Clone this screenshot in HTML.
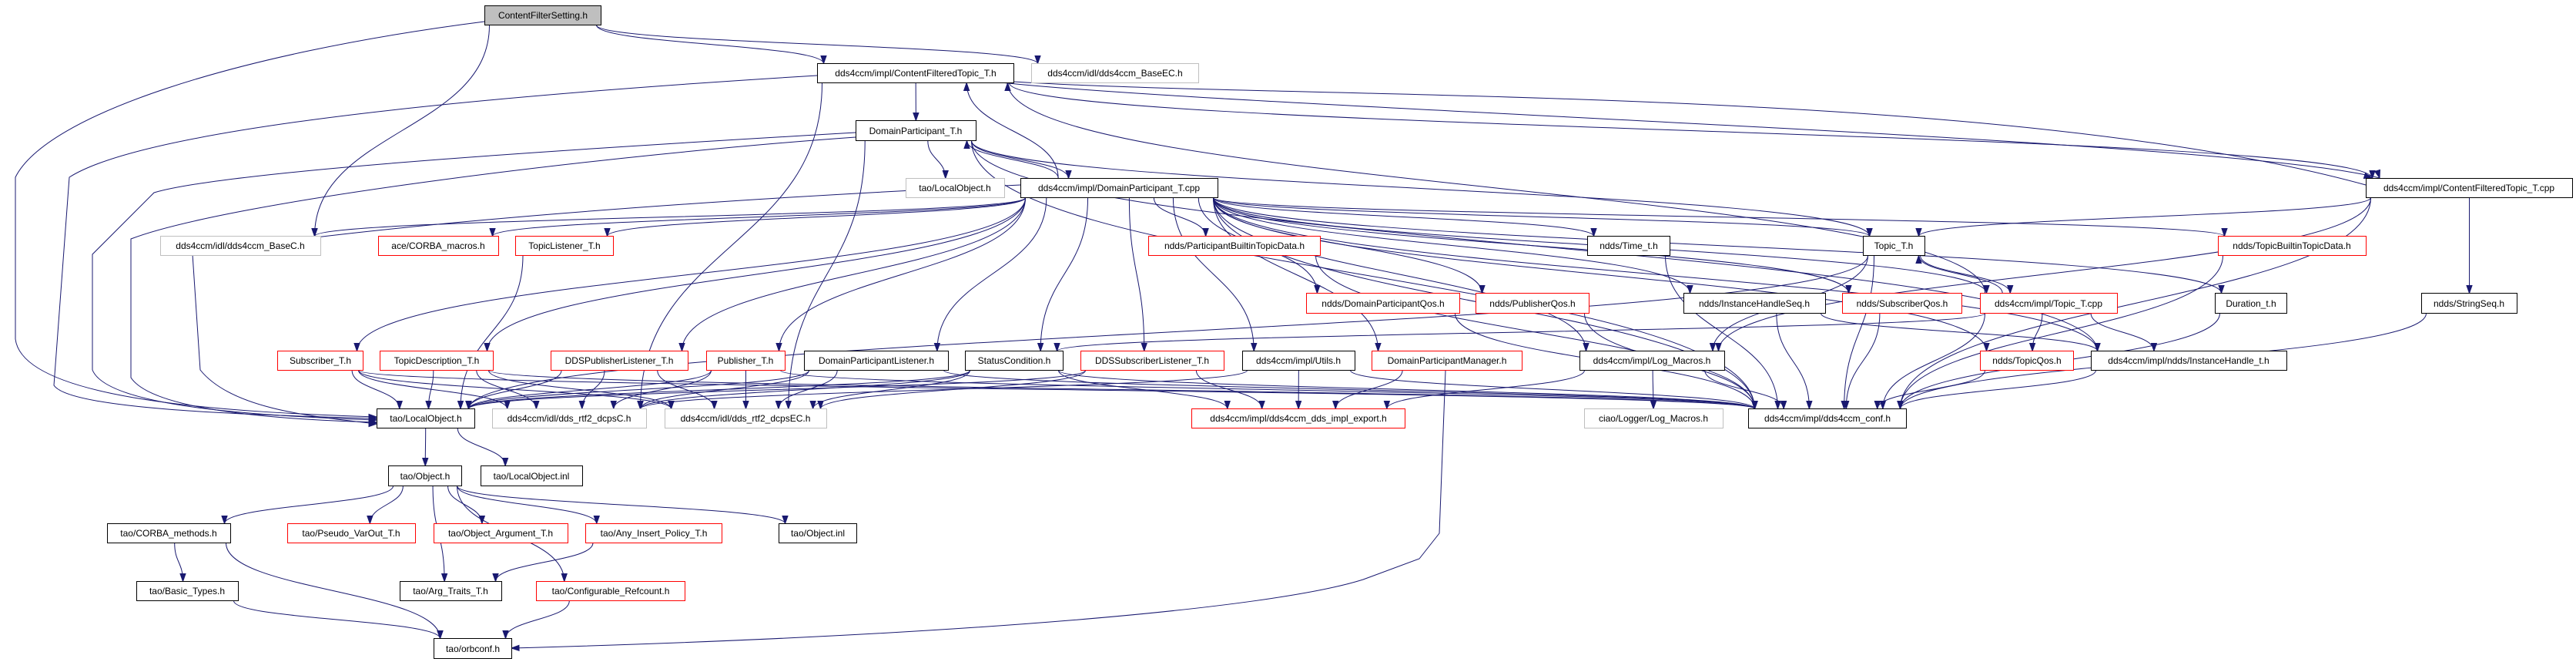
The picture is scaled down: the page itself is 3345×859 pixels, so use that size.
<!DOCTYPE html>
<html><head><meta charset="utf-8"><style>
html,body{margin:0;padding:0;background:#fff;}
svg{display:block;}
text{font-family:"Liberation Sans","DejaVu Sans",sans-serif;font-size:12px;fill:#000;}
</style></head><body>
<svg id="g" xmlns="http://www.w3.org/2000/svg" width="3345" height="859" viewBox="0 0 3345 859">
<g id="edges" fill="none" stroke="#191970" stroke-width="1"></g>
<g id="heads" fill="#191970" stroke="#191970"></g>
<g id="nodes" stroke-width="1">
<rect x="629.5" y="7.5" width="151" height="25" fill="#bfbfbf" stroke="#000"/><text x="705" y="24" text-anchor="middle">ContentFilterSetting.h</text>
<rect x="1061.5" y="82.5" width="255" height="25" fill="#fff" stroke="#000"/><text x="1189" y="99" text-anchor="middle">dds4ccm/impl/ContentFilteredTopic_T.h</text>
<rect x="1339.5" y="82.5" width="217" height="25" fill="#fff" stroke="#bfbfbf"/><text x="1448" y="99" text-anchor="middle">dds4ccm/idl/dds4ccm_BaseEC.h</text>
<rect x="1111.5" y="156.5" width="156" height="26" fill="#fff" stroke="#000"/><text x="1189" y="174" text-anchor="middle">DomainParticipant_T.h</text>
<rect x="1176.5" y="231.5" width="128" height="25" fill="#fff" stroke="#bfbfbf"/><text x="1240" y="248" text-anchor="middle">tao/LocalObject.h</text>
<rect x="1325.5" y="231.5" width="256" height="25" fill="#fff" stroke="#000"/><text x="1453" y="248" text-anchor="middle">dds4ccm/impl/DomainParticipant_T.cpp</text>
<rect x="3072.5" y="231.5" width="268" height="25" fill="#fff" stroke="#000"/><text x="3206" y="248" text-anchor="middle">dds4ccm/impl/ContentFilteredTopic_T.cpp</text>
<rect x="208.5" y="306.5" width="208" height="25" fill="#fff" stroke="#bfbfbf"/><text x="312" y="323" text-anchor="middle">dds4ccm/idl/dds4ccm_BaseC.h</text>
<rect x="491.5" y="306.5" width="156" height="25" fill="#fff" stroke="#f00"/><text x="569" y="323" text-anchor="middle">ace/CORBA_macros.h</text>
<rect x="669.5" y="306.5" width="127" height="25" fill="#fff" stroke="#f00"/><text x="733" y="323" text-anchor="middle">TopicListener_T.h</text>
<rect x="1491.5" y="306.5" width="223" height="25" fill="#fff" stroke="#f00"/><text x="1603" y="323" text-anchor="middle">ndds/ParticipantBuiltinTopicData.h</text>
<rect x="2061.5" y="306.5" width="107" height="25" fill="#fff" stroke="#000"/><text x="2115" y="323" text-anchor="middle">ndds/Time_t.h</text>
<rect x="2419.5" y="306.5" width="80" height="25" fill="#fff" stroke="#000"/><text x="2459" y="323" text-anchor="middle">Topic_T.h</text>
<rect x="2880.5" y="306.5" width="192" height="25" fill="#fff" stroke="#f00"/><text x="2976" y="323" text-anchor="middle">ndds/TopicBuiltinTopicData.h</text>
<rect x="1696.5" y="380.5" width="199" height="26" fill="#fff" stroke="#f00"/><text x="1796" y="398" text-anchor="middle">ndds/DomainParticipantQos.h</text>
<rect x="1916.5" y="380.5" width="147" height="26" fill="#fff" stroke="#f00"/><text x="1990" y="398" text-anchor="middle">ndds/PublisherQos.h</text>
<rect x="2186.5" y="380.5" width="184" height="26" fill="#fff" stroke="#000"/><text x="2278" y="398" text-anchor="middle">ndds/InstanceHandleSeq.h</text>
<rect x="2392.5" y="380.5" width="155" height="26" fill="#fff" stroke="#f00"/><text x="2470" y="398" text-anchor="middle">ndds/SubscriberQos.h</text>
<rect x="2571.5" y="380.5" width="178" height="26" fill="#fff" stroke="#f00"/><text x="2660" y="398" text-anchor="middle">dds4ccm/impl/Topic_T.cpp</text>
<rect x="2876.5" y="380.5" width="93" height="26" fill="#fff" stroke="#000"/><text x="2923" y="398" text-anchor="middle">Duration_t.h</text>
<rect x="3144.5" y="380.5" width="124" height="26" fill="#fff" stroke="#000"/><text x="3206" y="398" text-anchor="middle">ndds/StringSeq.h</text>
<rect x="360.5" y="455.5" width="111" height="25" fill="#fff" stroke="#f00"/><text x="416" y="472" text-anchor="middle">Subscriber_T.h</text>
<rect x="493.5" y="455.5" width="147" height="25" fill="#fff" stroke="#f00"/><text x="567" y="472" text-anchor="middle">TopicDescription_T.h</text>
<rect x="715.5" y="455.5" width="178" height="25" fill="#fff" stroke="#f00"/><text x="804" y="472" text-anchor="middle">DDSPublisherListener_T.h</text>
<rect x="917.5" y="455.5" width="102" height="25" fill="#fff" stroke="#f00"/><text x="968" y="472" text-anchor="middle">Publisher_T.h</text>
<rect x="1044.5" y="455.5" width="187" height="25" fill="#fff" stroke="#000"/><text x="1138" y="472" text-anchor="middle">DomainParticipantListener.h</text>
<rect x="1253.5" y="455.5" width="127" height="25" fill="#fff" stroke="#000"/><text x="1317" y="472" text-anchor="middle">StatusCondition.h</text>
<rect x="1403.5" y="455.5" width="186" height="25" fill="#fff" stroke="#f00"/><text x="1496" y="472" text-anchor="middle">DDSSubscriberListener_T.h</text>
<rect x="1613.5" y="455.5" width="146" height="25" fill="#fff" stroke="#000"/><text x="1686" y="472" text-anchor="middle">dds4ccm/impl/Utils.h</text>
<rect x="1781.5" y="455.5" width="195" height="25" fill="#fff" stroke="#f00"/><text x="1879" y="472" text-anchor="middle">DomainParticipantManager.h</text>
<rect x="2051.5" y="455.5" width="188" height="25" fill="#fff" stroke="#000"/><text x="2145" y="472" text-anchor="middle">dds4ccm/impl/Log_Macros.h</text>
<rect x="2571.5" y="455.5" width="121" height="25" fill="#fff" stroke="#f00"/><text x="2632" y="472" text-anchor="middle">ndds/TopicQos.h</text>
<rect x="2715.5" y="455.5" width="254" height="25" fill="#fff" stroke="#000"/><text x="2842" y="472" text-anchor="middle">dds4ccm/impl/ndds/InstanceHandle_t.h</text>
<rect x="489.5" y="530.5" width="127" height="25" fill="#fff" stroke="#000"/><text x="553" y="547" text-anchor="middle">tao/LocalObject.h</text>
<rect x="639.5" y="530.5" width="200" height="25" fill="#fff" stroke="#bfbfbf"/><text x="739" y="547" text-anchor="middle">dds4ccm/idl/dds_rtf2_dcpsC.h</text>
<rect x="863.5" y="530.5" width="210" height="25" fill="#fff" stroke="#bfbfbf"/><text x="968" y="547" text-anchor="middle">dds4ccm/idl/dds_rtf2_dcpsEC.h</text>
<rect x="1547.5" y="530.5" width="277" height="25" fill="#fff" stroke="#f00"/><text x="1686" y="547" text-anchor="middle">dds4ccm/impl/dds4ccm_dds_impl_export.h</text>
<rect x="2057.5" y="530.5" width="180" height="25" fill="#fff" stroke="#bfbfbf"/><text x="2147" y="547" text-anchor="middle">ciao/Logger/Log_Macros.h</text>
<rect x="2270.5" y="530.5" width="205" height="25" fill="#fff" stroke="#000"/><text x="2373" y="547" text-anchor="middle">dds4ccm/impl/dds4ccm_conf.h</text>
<rect x="504.5" y="604.5" width="95" height="26" fill="#fff" stroke="#000"/><text x="552" y="622" text-anchor="middle">tao/Object.h</text>
<rect x="624.5" y="604.5" width="132" height="26" fill="#fff" stroke="#000"/><text x="690" y="622" text-anchor="middle">tao/LocalObject.inl</text>
<rect x="139.5" y="679.5" width="160" height="25" fill="#fff" stroke="#000"/><text x="219" y="696" text-anchor="middle">tao/CORBA_methods.h</text>
<rect x="373.5" y="679.5" width="166" height="25" fill="#fff" stroke="#f00"/><text x="456" y="696" text-anchor="middle">tao/Pseudo_VarOut_T.h</text>
<rect x="563.5" y="679.5" width="174" height="25" fill="#fff" stroke="#f00"/><text x="650" y="696" text-anchor="middle">tao/Object_Argument_T.h</text>
<rect x="760.5" y="679.5" width="177" height="25" fill="#fff" stroke="#f00"/><text x="849" y="696" text-anchor="middle">tao/Any_Insert_Policy_T.h</text>
<rect x="1011.5" y="679.5" width="101" height="25" fill="#fff" stroke="#000"/><text x="1062" y="696" text-anchor="middle">tao/Object.inl</text>
<rect x="177.5" y="754.5" width="132" height="25" fill="#fff" stroke="#000"/><text x="243" y="771" text-anchor="middle">tao/Basic_Types.h</text>
<rect x="519.5" y="754.5" width="132" height="25" fill="#fff" stroke="#000"/><text x="585" y="771" text-anchor="middle">tao/Arg_Traits_T.h</text>
<rect x="696.5" y="754.5" width="193" height="25" fill="#fff" stroke="#f00"/><text x="793" y="771" text-anchor="middle">tao/Configurable_Refcount.h</text>
<rect x="563.5" y="828.5" width="101" height="26" fill="#fff" stroke="#000"/><text x="614" y="846" text-anchor="middle">tao/orbconf.h</text>
</g>
</svg>
<script>
(function(){
var N={};
var rs=document.querySelectorAll('#nodes rect'),ts=document.querySelectorAll('#nodes text');
for(var i=0;i<rs.length;i++){var r=rs[i];N[ts[i].textContent]={x:+r.getAttribute('x'),y:+r.getAttribute('y'),w:+r.getAttribute('width'),h:+r.getAttribute('height')};}
var E=[
['ContentFilterSetting.h','dds4ccm/impl/ContentFilteredTopic_T.h'],['ContentFilterSetting.h','dds4ccm/idl/dds4ccm_BaseEC.h'],['ContentFilterSetting.h','dds4ccm/idl/dds4ccm_BaseC.h'],
['dds4ccm/impl/ContentFilteredTopic_T.h','DomainParticipant_T.h'],['dds4ccm/impl/ContentFilteredTopic_T.h','dds4ccm/impl/ContentFilteredTopic_T.cpp'],['dds4ccm/impl/ContentFilteredTopic_T.h','dds4ccm/idl/dds_rtf2_dcpsC.h'],
['DomainParticipant_T.h','tao/LocalObject.h#g'],['DomainParticipant_T.h','dds4ccm/impl/DomainParticipant_T.cpp'],['DomainParticipant_T.h','dds4ccm/impl/dds4ccm_conf.h'],['DomainParticipant_T.h','dds4ccm/impl/ndds/InstanceHandle_t.h'],['DomainParticipant_T.h','Topic_T.h'],['DomainParticipant_T.h','dds4ccm/idl/dds_rtf2_dcpsEC.h'],
['dds4ccm/impl/DomainParticipant_T.cpp','dds4ccm/impl/ContentFilteredTopic_T.h'],['dds4ccm/impl/DomainParticipant_T.cpp','DomainParticipant_T.h'],
['dds4ccm/impl/DomainParticipant_T.cpp','dds4ccm/idl/dds4ccm_BaseC.h'],['dds4ccm/impl/DomainParticipant_T.cpp','ace/CORBA_macros.h'],['dds4ccm/impl/DomainParticipant_T.cpp','TopicListener_T.h'],
['dds4ccm/impl/DomainParticipant_T.cpp','Subscriber_T.h'],['dds4ccm/impl/DomainParticipant_T.cpp','TopicDescription_T.h'],['dds4ccm/impl/DomainParticipant_T.cpp','DDSPublisherListener_T.h'],['dds4ccm/impl/DomainParticipant_T.cpp','Publisher_T.h'],['dds4ccm/impl/DomainParticipant_T.cpp','DomainParticipantListener.h'],['dds4ccm/impl/DomainParticipant_T.cpp','StatusCondition.h'],['dds4ccm/impl/DomainParticipant_T.cpp','DDSSubscriberListener_T.h'],['dds4ccm/impl/DomainParticipant_T.cpp','dds4ccm/impl/Utils.h'],['dds4ccm/impl/DomainParticipant_T.cpp','DomainParticipantManager.h'],
['dds4ccm/impl/DomainParticipant_T.cpp','ndds/ParticipantBuiltinTopicData.h'],['dds4ccm/impl/DomainParticipant_T.cpp','ndds/DomainParticipantQos.h'],['dds4ccm/impl/DomainParticipant_T.cpp','ndds/PublisherQos.h'],['dds4ccm/impl/DomainParticipant_T.cpp','ndds/Time_t.h'],['dds4ccm/impl/DomainParticipant_T.cpp','ndds/InstanceHandleSeq.h'],['dds4ccm/impl/DomainParticipant_T.cpp','ndds/SubscriberQos.h'],['dds4ccm/impl/DomainParticipant_T.cpp','Topic_T.h'],['dds4ccm/impl/DomainParticipant_T.cpp','dds4ccm/impl/Topic_T.cpp'],['dds4ccm/impl/DomainParticipant_T.cpp','ndds/TopicBuiltinTopicData.h'],['dds4ccm/impl/DomainParticipant_T.cpp','Duration_t.h'],['dds4ccm/impl/DomainParticipant_T.cpp','dds4ccm/impl/Log_Macros.h'],['dds4ccm/impl/DomainParticipant_T.cpp','ndds/TopicQos.h'],['dds4ccm/impl/DomainParticipant_T.cpp','dds4ccm/impl/ndds/InstanceHandle_t.h'],['dds4ccm/impl/DomainParticipant_T.cpp','dds4ccm/impl/dds4ccm_conf.h'],
['dds4ccm/impl/ContentFilteredTopic_T.cpp','Topic_T.h'],['dds4ccm/impl/ContentFilteredTopic_T.cpp','ndds/StringSeq.h'],['dds4ccm/impl/ContentFilteredTopic_T.cpp','dds4ccm/impl/dds4ccm_conf.h'],['dds4ccm/impl/ContentFilteredTopic_T.cpp','dds4ccm/impl/Log_Macros.h'],
['Topic_T.h','dds4ccm/impl/Topic_T.cpp'],['Topic_T.h','tao/LocalObject.h'],['Topic_T.h','dds4ccm/impl/dds4ccm_conf.h'],['Topic_T.h','dds4ccm/impl/Log_Macros.h'],
['dds4ccm/impl/Topic_T.cpp','Topic_T.h'],['dds4ccm/impl/Topic_T.cpp','StatusCondition.h'],['dds4ccm/impl/Topic_T.cpp','ndds/TopicQos.h'],['dds4ccm/impl/Topic_T.cpp','dds4ccm/impl/ndds/InstanceHandle_t.h'],['dds4ccm/impl/Topic_T.cpp','dds4ccm/impl/dds4ccm_conf.h'],['dds4ccm/impl/Topic_T.cpp','dds4ccm/impl/ContentFilteredTopic_T.h'],
['ndds/ParticipantBuiltinTopicData.h','dds4ccm/impl/dds4ccm_conf.h'],['ndds/DomainParticipantQos.h','dds4ccm/impl/dds4ccm_conf.h'],['ndds/PublisherQos.h','dds4ccm/impl/dds4ccm_conf.h'],['ndds/Time_t.h','dds4ccm/impl/dds4ccm_conf.h'],['ndds/InstanceHandleSeq.h','dds4ccm/impl/dds4ccm_conf.h'],['ndds/SubscriberQos.h','dds4ccm/impl/dds4ccm_conf.h'],['ndds/TopicBuiltinTopicData.h','dds4ccm/impl/dds4ccm_conf.h'],['Duration_t.h','dds4ccm/impl/dds4ccm_conf.h'],['ndds/StringSeq.h','dds4ccm/impl/dds4ccm_conf.h'],['ndds/TopicQos.h','dds4ccm/impl/dds4ccm_conf.h'],['dds4ccm/impl/ndds/InstanceHandle_t.h','dds4ccm/impl/dds4ccm_conf.h'],['ndds/InstanceHandleSeq.h','dds4ccm/impl/ndds/InstanceHandle_t.h'],
['Subscriber_T.h','tao/LocalObject.h'],['Subscriber_T.h','dds4ccm/idl/dds_rtf2_dcpsC.h'],['Subscriber_T.h','dds4ccm/idl/dds_rtf2_dcpsEC.h'],['Subscriber_T.h','dds4ccm/impl/dds4ccm_conf.h'],
['TopicDescription_T.h','tao/LocalObject.h'],['TopicDescription_T.h','dds4ccm/idl/dds_rtf2_dcpsC.h'],['TopicDescription_T.h','dds4ccm/idl/dds_rtf2_dcpsEC.h'],['TopicDescription_T.h','dds4ccm/impl/dds4ccm_conf.h'],
['DDSPublisherListener_T.h','tao/LocalObject.h'],['DDSPublisherListener_T.h','dds4ccm/idl/dds_rtf2_dcpsC.h'],['DDSPublisherListener_T.h','dds4ccm/idl/dds_rtf2_dcpsEC.h'],
['Publisher_T.h','tao/LocalObject.h'],['Publisher_T.h','dds4ccm/idl/dds_rtf2_dcpsC.h'],['Publisher_T.h','dds4ccm/idl/dds_rtf2_dcpsEC.h'],['Publisher_T.h','dds4ccm/impl/dds4ccm_conf.h'],
['DomainParticipantListener.h','tao/LocalObject.h'],['DomainParticipantListener.h','dds4ccm/idl/dds_rtf2_dcpsC.h'],['DomainParticipantListener.h','dds4ccm/idl/dds_rtf2_dcpsEC.h'],['DomainParticipantListener.h','dds4ccm/impl/dds4ccm_conf.h'],
['StatusCondition.h','tao/LocalObject.h'],['StatusCondition.h','dds4ccm/idl/dds_rtf2_dcpsC.h'],['StatusCondition.h','dds4ccm/idl/dds_rtf2_dcpsEC.h'],['StatusCondition.h','dds4ccm/impl/dds4ccm_dds_impl_export.h'],['StatusCondition.h','dds4ccm/impl/dds4ccm_conf.h'],
['DDSSubscriberListener_T.h','tao/LocalObject.h'],['DDSSubscriberListener_T.h','dds4ccm/idl/dds_rtf2_dcpsEC.h'],['DDSSubscriberListener_T.h','dds4ccm/impl/dds4ccm_dds_impl_export.h'],
['dds4ccm/impl/Utils.h','dds4ccm/impl/dds4ccm_dds_impl_export.h'],['dds4ccm/impl/Utils.h','dds4ccm/impl/dds4ccm_conf.h'],['dds4ccm/impl/Utils.h','dds4ccm/idl/dds_rtf2_dcpsC.h'],
['DomainParticipantManager.h','dds4ccm/impl/dds4ccm_dds_impl_export.h'],
['dds4ccm/impl/Log_Macros.h','ciao/Logger/Log_Macros.h'],['dds4ccm/impl/Log_Macros.h','dds4ccm/impl/dds4ccm_dds_impl_export.h'],['dds4ccm/impl/Log_Macros.h','dds4ccm/impl/dds4ccm_conf.h'],
['TopicListener_T.h','tao/LocalObject.h'],
['tao/LocalObject.h','tao/Object.h'],['tao/LocalObject.h','tao/LocalObject.inl'],
['tao/Object.h','tao/CORBA_methods.h'],['tao/Object.h','tao/Pseudo_VarOut_T.h'],['tao/Object.h','tao/Object_Argument_T.h'],['tao/Object.h','tao/Any_Insert_Policy_T.h'],['tao/Object.h','tao/Object.inl'],['tao/Object.h','tao/Arg_Traits_T.h'],['tao/Object.h','tao/Configurable_Refcount.h'],
['tao/CORBA_methods.h','tao/Basic_Types.h'],['tao/CORBA_methods.h','tao/orbconf.h'],['tao/Basic_Types.h','tao/orbconf.h'],['tao/Any_Insert_Policy_T.h','tao/Arg_Traits_T.h'],['tao/Configurable_Refcount.h','tao/orbconf.h']
];
var grey={x:1176.5,y:231.5,w:128,h:25};
var big=N['tao/LocalObject.h'];
function get(n){if(n==='tao/LocalObject.h#g')return grey;if(n==='tao/LocalObject.h')return big;return N[n];}
var eg=document.getElementById('edges'),hg=document.getElementById('heads'),NS='http://www.w3.org/2000/svg';
function add(d,ex,ey,dx,dy){var p=document.createElementNS(NS,'path');p.setAttribute('d',d);eg.appendChild(p);
var L=Math.sqrt(dx*dx+dy*dy)||1;dx/=L;dy/=L;var bx=ex-dx*10,by=ey-dy*10;
var h=document.createElementNS(NS,'polygon');h.setAttribute('points',ex+','+ey+' '+(bx-dy*3.5)+','+(by+dx*3.5)+' '+(bx+dy*3.5)+','+(by-dx*3.5));hg.appendChild(h);}
function clamp(v,a,b){return Math.max(a,Math.min(b,v));}
E.forEach(function(e){var s=get(e[0]),t=get(e[1]);if(!s||!t)return;
var scx=s.x+s.w/2,tcx=t.x+t.w/2;var sx,sy,tx,ty;
if(t.y>s.y+s.h){sy=s.y+s.h;ty=t.y;sx=clamp(scx+(tcx-scx)*0.3,s.x+6,s.x+s.w-6);tx=clamp(tcx+(scx-tcx)*0.25,t.x+8,t.x+t.w-8);
 var m=(ty-sy)*0.5;add('M'+sx+','+sy+' C'+sx+','+(sy+m)+' '+tx+','+(ty-m)+' '+tx+','+ty,tx,ty,0,1);}
else if(t.y+t.h<s.y){sy=s.y;ty=t.y+t.h;sx=clamp(scx+(tcx-scx)*0.3,s.x+6,s.x+s.w-6);tx=clamp(tcx+(scx-tcx)*0.25,t.x+8,t.x+t.w-8);
 var m=(sy-ty)*0.5;add('M'+sx+','+sy+' C'+sx+','+(sy-m)+' '+tx+','+(ty+m)+' '+tx+','+ty,tx,ty,0,-1);}
else{sy=s.y+s.h/2;ty=t.y+t.h/2;if(tcx>scx){sx=s.x+s.w;tx=t.x;}else{sx=s.x;tx=t.x+t.w;}
 var m=(tx-sx)*0.4;add('M'+sx+','+sy+' C'+(sx+m)+','+sy+' '+(tx-m)+','+ty+' '+tx+','+ty,tx,ty,tx>sx?1:-1,0);}
});
add('M629,28 C300,70 60,150 20,230 L20,440 C30,520 300,535 489,541',489,541,1,0);
add('M1061,98 C700,120 200,160 90,230 L70,500 C90,530 300,538 489,543',489,543,1,0);
add('M1111,172 C800,190 300,220 200,250 L120,330 L120,480 C140,530 350,540 489,545',489,545,1,0);
add('M1111,178 C800,200 300,260 170,310 L170,490 C200,535 380,545 489,548',489,548,1,0);
add('M1325,240 C900,260 500,290 250,330 L260,480 C300,530 400,540 489,550',489,550,1,0);
add('M1316,106 C1700,130 2600,110 3072,240',3080,231,1,0.3);
add('M1300,107 C1600,140 2900,180 3090,231',3090,231,0.3,1);
// DomainParticipantManager -> orbconf long route
add('M1877,481 L1869,692 L1843,725 L1770,752 C1650,790 1250,825 664,841',664,841,-1,0.02);
})();
</script>
</body></html>
